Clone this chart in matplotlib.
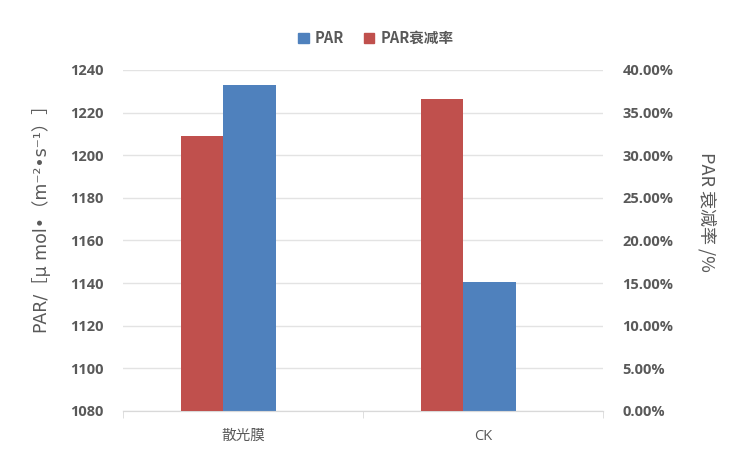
import matplotlib
matplotlib.use('Agg')
import matplotlib.pyplot as plt
from matplotlib.patches import Patch
from matplotlib.ticker import FuncFormatter

# data
categories = ['散光膜', 'CK']
par_values = [1233.0, 1140.7]          # μmol·m-2·s-1, left axis
decay_rate = [32.2, 36.6]              # %, right axis
left_ticks = [1080, 1100, 1120, 1140, 1160, 1180, 1200, 1220, 1240]
right_ticks = [0, 5, 10, 15, 20, 25, 30, 35, 40]

blue = '#4F81BD'
red = '#C0504D'
grey_txt = '#595959'
grid_col = '#E3E3E3'
fonts = ['Noto Sans CJK SC', 'DejaVu Sans']
plt.rcParams['font.family'] = fonts

fig = plt.figure(figsize=(7.37, 4.59), dpi=100)
ax = fig.add_axes([0.1669, 0.1046, 0.6513, 0.7429])
ax2 = ax.twinx()

x = range(len(categories))
ax.bar([i - 0.085 for i in x], par_values, width=0.2225, align='edge',
       color=blue, zorder=3)
ax2.bar([i - 0.258 for i in x], decay_rate, width=0.173, align='edge',
        color=red, zorder=3)

ax.set_xlim(-0.5, 1.5)
ax.set_ylim(1080, 1240)
ax2.set_ylim(0, 40)
ax.set_yticks(left_ticks)
ax2.set_yticks(right_ticks)
ax2.yaxis.set_major_formatter(FuncFormatter(lambda v, p: '%.2f%%' % v))

ax.set_xticks(list(x))
ax.set_xticklabels(categories)
ax.set_xticks([-0.5, 0.5, 1.5], minor=True)
ax.tick_params(axis='x', which='major', length=0, pad=13, colors=grey_txt,
               labelsize=10.5)
ax.tick_params(axis='x', which='minor', length=5, color='#D9D9D9')
ax.tick_params(axis='y', length=0, pad=14, colors=grey_txt, labelsize=10.5)
ax2.tick_params(axis='y', length=0, pad=14, colors=grey_txt, labelsize=10.5)
for lab in ax.get_yticklabels() + ax2.get_yticklabels():
    lab.set_fontweight('bold')
    lab.set_family(['Open Sans', 'DejaVu Sans'])
ax.get_xticklabels()[1].set_family(['Open Sans', 'DejaVu Sans'])

ax.yaxis.grid(True, color=grid_col, linewidth=1, zorder=0)
ax.set_axisbelow(True)
for a in (ax, ax2):
    for s in ('top', 'left', 'right'):
        a.spines[s].set_visible(False)
    a.spines['bottom'].set_color('#D9D9D9')

ax.set_ylabel('PAR/［μ mol•（m⁻²•s⁻¹）］', fontsize=12.5, color=grey_txt,
              family=['DejaVu Sans', 'Noto Sans CJK SC'])
ax.yaxis.set_label_coords(-0.15, 0.575)
ax2.set_ylabel('PAR 衰减率 /%', fontsize=13, color=grey_txt, rotation=-90)
ax2.yaxis.set_label_coords(1.235, 0.585)

handles = [Patch(color=blue), Patch(color=red)]
leg = fig.legend(handles, ['PAR', 'PAR衰减率'], loc='center', ncol=2,
                 bbox_to_anchor=(0.51, 0.917), frameon=False, fontsize=10.5,
                 handlelength=0.7, handleheight=0.7, handletextpad=0.4,
                 columnspacing=1.4)
for t in leg.get_texts():
    t.set_color(grey_txt)
    t.set_fontweight('bold')

fig.savefig('out.png', dpi=100)
